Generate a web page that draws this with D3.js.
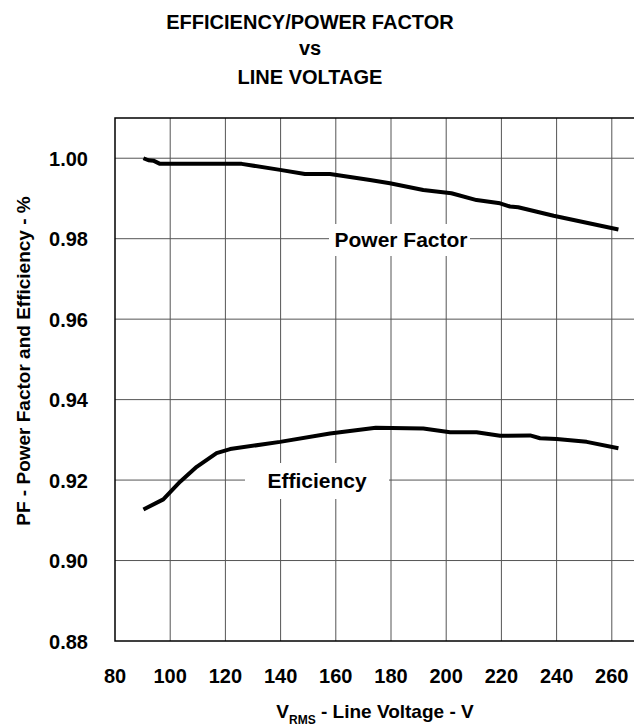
<!DOCTYPE html>
<html lang="en">
<head>
  <title>Efficiency / Power Factor vs Line Voltage</title>
  <script src="https://d3js.org/d3.v7.min.js"></script>
  <style>
    body { margin: 0; background: #fff; }
    text { font-family: "Liberation Sans", Arial, Helvetica, sans-serif; font-weight: bold; fill: #000; }
  </style>
</head>
<body>
  <script>
    // Data
    const pfVolts = [90.3, 92.1, 93.9, 96.3, 125.9, 139.8, 148.8, 157.9, 172.4, 179.6, 191.7, 201.9, 211, 219.5, 223.1, 226.1, 238.9, 262.4];
    const pfValues = [1.0000, 0.9995, 0.9994, 0.9986, 0.9986, 0.9971, 0.9961, 0.9961, 0.9946, 0.9938, 0.9921, 0.9913, 0.9896, 0.9888, 0.9880, 0.9878, 0.9857, 0.9823];

    const effVolts = [90.3, 97.5, 103.6, 109.6, 116.8, 121.7, 139.8, 157.9, 174.5, 191.7, 201.4, 211, 219.5, 230.4, 234, 240, 250.9, 262.4];
    const effValues = [0.9127, 0.9152, 0.9196, 0.9233, 0.9267, 0.9277, 0.9295, 0.9316, 0.9330, 0.9328, 0.9319, 0.9319, 0.9310, 0.9311, 0.9304, 0.9302, 0.9295, 0.9279];

    const xTicks = [80, 100, 120, 140, 160, 180, 200, 220, 240, 260];
    const yTicks = [0.88, 0.90, 0.92, 0.94, 0.96, 0.98, 1.00];
    const titleLines = ["EFFICIENCY/POWER FACTOR", "vs", "LINE VOLTAGE"];

    const W = 634, H = 727;
    const plot = { left: 115, top: 118, bottom: 641, right: 639.4 };

    const svg = d3.select("body").append("svg")
      .attr("width", W)
      .attr("height", H);

    const x = d3.scaleLinear().domain([80, 270]).range([plot.left, plot.right]);
    const y = d3.scaleLinear().domain([0.88, 1.01]).range([plot.bottom, plot.top]);

    // Title
    const titleBase = [28.5, 55, 83.5];
    svg.selectAll("text.title")
      .data(titleLines)
      .enter()
      .append("text")
      .attr("class", "title")
      .attr("x", 310)
      .attr("y", (d, i) => titleBase[i])
      .attr("text-anchor", "middle")
      .style("font-size", "20px")
      .text(d => d);

    // Grid lines
    svg.selectAll("line.vgrid")
      .data(xTicks.slice(1))
      .enter()
      .append("line")
      .attr("class", "vgrid")
      .attr("x1", d => x(d)).attr("x2", d => x(d))
      .attr("y1", plot.top).attr("y2", plot.bottom)
      .attr("stroke", "#555")
      .attr("stroke-width", 1);

    svg.selectAll("line.hgrid")
      .data(yTicks.slice(1))
      .enter()
      .append("line")
      .attr("class", "hgrid")
      .attr("x1", plot.left).attr("x2", plot.right)
      .attr("y1", d => y(d)).attr("y2", d => y(d))
      .attr("stroke", "#555")
      .attr("stroke-width", 1);

    // Frame
    svg.append("rect")
      .attr("x", plot.left)
      .attr("y", plot.top)
      .attr("width", plot.right - plot.left)
      .attr("height", plot.bottom - plot.top)
      .attr("fill", "none")
      .attr("stroke", "#000")
      .attr("stroke-width", 1.5);

    // Curve labels with white boxes that break the grid
    function curveLabel(txt, cx, baseline, boxL, boxR, boxT, boxB) {
      svg.append("rect")
        .attr("x", boxL).attr("y", boxT)
        .attr("width", boxR - boxL).attr("height", boxB - boxT)
        .attr("fill", "#fff");
      svg.append("text")
        .attr("x", cx).attr("y", baseline)
        .attr("text-anchor", "middle")
        .style("font-size", "21px")
        .text(txt);
    }
    curveLabel("Power Factor", 401, 247, 329, 470, 224, 256);
    curveLabel("Efficiency", 317, 487.5, 245, 389, 463, 499);

    // Curves
    const line = d3.line()
      .x(d => x(d[0]))
      .y(d => y(d[1]));

    svg.append("path")
      .datum(d3.zip(pfVolts, pfValues))
      .attr("d", line)
      .attr("fill", "none")
      .attr("stroke", "#000")
      .attr("stroke-width", 4)
      .attr("stroke-linejoin", "round");

    svg.append("path")
      .datum(d3.zip(effVolts, effValues))
      .attr("d", line)
      .attr("fill", "none")
      .attr("stroke", "#000")
      .attr("stroke-width", 4)
      .attr("stroke-linejoin", "round");

    // Tick labels
    svg.selectAll("text.xtick")
      .data(xTicks)
      .enter()
      .append("text")
      .attr("class", "xtick")
      .attr("x", d => x(d))
      .attr("y", 683)
      .attr("text-anchor", "middle")
      .style("font-size", "20px")
      .text(d => d);

    svg.selectAll("text.ytick")
      .data(yTicks)
      .enter()
      .append("text")
      .attr("class", "ytick")
      .attr("x", 88)
      .attr("y", d => y(d) + 7.5)
      .attr("text-anchor", "end")
      .style("font-size", "20px")
      .text(d => d.toFixed(2));

    // Axis titles
    const xt = svg.append("text")
      .attr("x", 375)
      .attr("y", 718)
      .attr("text-anchor", "middle")
      .style("font-size", "19px");
    xt.append("tspan").text("V");
    xt.append("tspan").attr("dy", 6).style("font-size", "12px").text("RMS");
    xt.append("tspan").attr("dy", -6).text(" - Line Voltage - V");

    svg.append("text")
      .attr("transform", "translate(30,361) rotate(-90)")
      .attr("text-anchor", "middle")
      .style("font-size", "19px")
      .text("PF - Power Factor and Efficiency - %");
  </script>
</body>
</html>
